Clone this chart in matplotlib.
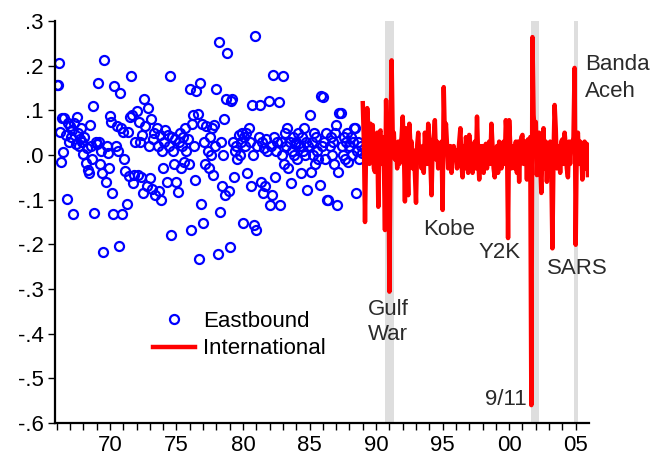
import numpy as np
import matplotlib
matplotlib.use("Agg")
import matplotlib.pyplot as plt
from matplotlib.lines import Line2D

plt.rcParams["font.family"] = ["Liberation Sans", "DejaVu Sans"]

# monthly growth rates, Eastbound 1966:01-1988:12
eastbound = [
    0.156, 0.156, 0.207, 0.051, -0.016, 0.083, 0.007, 0.083, 0.045, -0.099, 0.072, 0.030,  # 1966
    0.066, 0.040, 0.055, -0.132, 0.072, 0.025, 0.086, 0.050, 0.020, 0.035, 0.060, 0.030,  # 1967
    0.002, 0.040, -0.018, 0.015, -0.033, -0.040, 0.068, 0.020, -0.010, 0.110, -0.129, 0.030,  # 1968
    0.025, 0.162, 0.029, -0.020, 0.010, -0.040, -0.217, 0.213, -0.060, 0.020, 0.005, -0.030,  # 1969
    0.087, 0.075, -0.084, -0.131, 0.155, 0.020, 0.065, 0.010, -0.204, 0.138, 0.060, -0.132,  # 1970
    0.052, -0.010, -0.035, -0.110, 0.052, -0.047, 0.085, 0.177, 0.090, -0.063, -0.045, 0.030,  # 1971
    0.098, -0.045, 0.075, 0.030, -0.050, 0.045, -0.086, 0.125, 0.065, -0.070, 0.106, 0.020,  # 1972
    -0.052, 0.080, -0.075, 0.035, 0.050, -0.090, 0.060, 0.020, -0.080, 0.045, -0.100, 0.010,  # 1973
    -0.030, 0.030, 0.055, -0.060, 0.045, 0.020, 0.177, -0.179, 0.040, 0.010, -0.020, 0.035,  # 1974
    -0.060, -0.082, 0.030, 0.050, -0.030, 0.020, 0.040, -0.015, 0.060, 0.010, 0.035, -0.020,  # 1975
    0.147, -0.168, 0.070, 0.090, 0.020, -0.056, 0.143, 0.092, -0.233, 0.162, -0.110, 0.070,  # 1976
    -0.153, 0.030, -0.020, 0.065, 0.010, -0.030, 0.040, 0.000, 0.060, -0.045, 0.068, 0.020,  # 1977
    0.147, -0.221, 0.254, -0.128, 0.030, -0.070, 0.000, 0.080, -0.090, 0.125, 0.228, -0.080,  # 1978
    -0.205, 0.120, 0.125, 0.030, -0.050, 0.010, 0.020, -0.010, 0.045, 0.000, 0.030, 0.050,  # 1979
    -0.153, 0.040, 0.020, 0.050, -0.040, 0.060, 0.030, -0.070, 0.111, 0.000, -0.157, 0.266,  # 1980
    -0.168, 0.020, 0.040, 0.113, -0.060, 0.030, -0.085, 0.015, -0.070, 0.035, 0.010, 0.121,  # 1981
    -0.112, 0.020, -0.089, 0.179, 0.040, -0.050, 0.010, 0.030, 0.119, -0.112, 0.030, 0.000,  # 1982
    0.177, -0.020, 0.050, 0.020, 0.060, -0.030, 0.030, -0.063, 0.010, 0.040, 0.000, 0.025,  # 1983
    0.030, -0.010, 0.050, 0.020, -0.040, 0.040, 0.010, 0.060, 0.000, 0.030, -0.078, 0.020,  # 1984
    0.090, -0.038, 0.030, 0.000, 0.050, -0.020, 0.040, 0.010, -0.010, -0.067, 0.131, 0.020,  # 1985
    0.130, 0.030, -0.010, 0.050, -0.100, -0.100, 0.020, 0.040, 0.000, 0.030, -0.020, 0.050,  # 1986
    0.067, -0.112, -0.038, 0.094, 0.094, 0.020, 0.000, 0.040, -0.010, 0.030, 0.050, -0.015,  # 1987
    0.020, 0.040, 0.000, 0.030, 0.060, 0.060, -0.085, 0.010, 0.030, -0.010, 0.020, 0.005,  # 1988
]

# International 1989:01-2005:12
international = [
    0.116, 0.030, -0.150, 0.020, 0.105, 0.060, -0.020, 0.070, 0.040, 0.067, -0.030, -0.038,  # 1989
    0.020, 0.050, -0.116, 0.050, 0.055, -0.020, 0.040, -0.010, -0.168, 0.123, -0.030, 0.050,  # 1990
    -0.306, 0.030, 0.212, 0.040, 0.050, -0.010, 0.020, -0.030, 0.030, -0.020, 0.020, 0.040,  # 1991
    0.086, 0.020, -0.104, 0.060, -0.010, -0.090, 0.070, 0.020, 0.030, -0.030, 0.010, -0.040,  # 1992
    -0.107, 0.020, 0.050, -0.010, 0.000, -0.030, 0.020, -0.040, 0.050, 0.010, -0.020, 0.070,  # 1993
    0.030, -0.020, -0.090, 0.020, 0.040, 0.078, -0.010, 0.030, -0.030, -0.020, 0.020, 0.030,  # 1994
    -0.123, 0.152, 0.040, 0.070, 0.020, -0.030, -0.010, 0.020, -0.040, 0.000, 0.020, -0.010,  # 1995
    0.010, -0.030, 0.000, 0.030, 0.060, -0.020, -0.050, 0.020, -0.030, 0.040, 0.020, -0.040,  # 1996
    0.045, -0.010, 0.000, -0.040, 0.020, 0.030, -0.030, 0.086, 0.000, -0.055, 0.020, -0.030,  # 1997
    0.020, -0.040, 0.010, 0.025, -0.030, 0.020, 0.030, -0.020, 0.070, 0.020, -0.030, -0.050,  # 1998
    0.000, 0.020, -0.040, 0.030, 0.000, -0.030, 0.020, 0.030, -0.020, 0.078, 0.040, -0.186,  # 1999
    0.078, 0.020, -0.030, 0.000, 0.020, -0.030, 0.030, -0.040, 0.030, -0.060, 0.020, 0.040,  # 2000
    0.045, -0.020, 0.020, 0.030, -0.055, 0.035, -0.020, 0.040, -0.560, 0.264, 0.090, 0.050,  # 2001
    0.074, -0.045, 0.030, 0.050, -0.020, -0.085, 0.020, 0.060, -0.030, 0.030, -0.060, 0.020,  # 2002
    0.020, 0.030, -0.030, -0.209, 0.000, 0.112, 0.060, -0.030, -0.005, 0.020, -0.040, 0.030,  # 2003
    0.035, -0.020, 0.050, 0.020, -0.030, -0.050, 0.030, -0.020, 0.030, 0.020, 0.040, 0.195,  # 2004
    -0.201, 0.030, 0.050, -0.020, 0.030, 0.020, -0.055, 0.010, 0.030, -0.030, 0.025, -0.045,  # 2005
]

east_dates = 1966 + np.arange(len(eastbound)) / 12
intl_dates = 1989 + np.arange(len(international)) / 12

shade_periods = [(1990.67, 1991.33), (2001.65, 2002.22), (2004.85, 2005.2)]

events = [
    ("Gulf", 1989.38, -0.358), ("War", 1989.38, -0.414),
    ("Kobe", 1993.52, -0.179),
    ("Y2K", 1997.72, -0.230),
    ("9/11", 1998.22, -0.559),
    ("SARS", 2002.83, -0.266),
    ("Banda", 2005.69, 0.190), ("Aceh", 2005.69, 0.130),
]

fig = plt.figure(figsize=(6.63, 4.55), dpi=100)
ax = fig.add_axes([55 / 663, 1 - 423 / 455, 534 / 663, 402 / 455])

for a, b in shade_periods:
    ax.axvspan(a, b, color="#dedede", lw=0, zorder=0)

ax.plot(east_dates, eastbound, "o", ms=6.5, mfc="none", mec="#0000ff", mew=1.6,
        zorder=2)
ax.plot(intl_dates, international, color="#ff0000", lw=3.2, zorder=3)

for txt, x, y in events:
    ax.text(x, y, txt, fontsize=16, color="#2a2a2a", ha="left", va="baseline")

ax.set_xlim(1965.87, 2006.0)
ax.set_ylim(-0.6, 0.3)

ax.set_xticks(np.arange(1970, 2006, 5))
ax.set_xticklabels(["70", "75", "80", "85", "90", "95", "00", "05"])
ax.set_xticks(np.arange(1966, 2006, 1), minor=True)
yt = np.round(np.arange(-0.6, 0.31, 0.1), 1)
ax.set_yticks(yt)
ax.set_yticklabels([("-" if v < 0 else "") + ("%.1f" % abs(v))[1:] for v in yt])

ax.tick_params(which="both", direction="out", length=5, width=1, labelsize=16,
               colors="black")
ax.tick_params(axis="x", which="both", pad=3.5)
ax.tick_params(axis="y", pad=3)
for s in ["top", "right"]:
    ax.spines[s].set_visible(False)
for s in ["left", "bottom"]:
    ax.spines[s].set_linewidth(1.6)

handles = [
    Line2D([], [], ls="none", marker="o", ms=6.5, mfc="none", mec="#0000ff", mew=1.6),
    Line2D([], [], color="#ff0000", lw=3.2),
]
ax.legend(handles, ["Eastbound", "International"], loc="upper left",
          bbox_to_anchor=(153 / 663, 1 - 311 / 455), bbox_transform=fig.transFigure,
          frameon=False, fontsize=16, handlelength=1.9, handletextpad=0.36,
          borderpad=0, borderaxespad=0, labelspacing=0.29)

fig.savefig("out.png", dpi=100)
